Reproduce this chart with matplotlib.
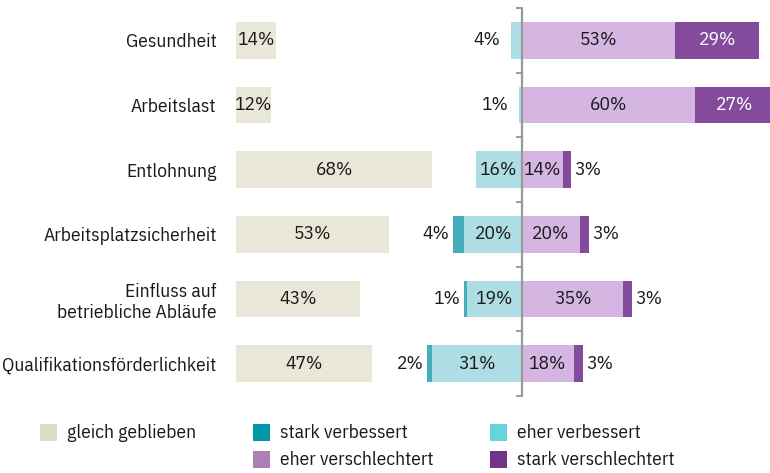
import numpy as np
import matplotlib
matplotlib.use('Agg')
import matplotlib.pyplot as plt
from matplotlib.patches import Rectangle

plt.rcParams['font.family'] = ['IBM Plex Sans Condensed', 'DejaVu Sans']

# data (percent)
categories = ['Gesundheit', 'Arbeitslast', 'Entlohnung', 'Arbeitsplatzsicherheit',
              'Einfluss auf\nbetriebliche Abläufe', 'Qualifikationsförderlichkeit']
gleich = [14, 12, 68, 53, 43, 47]
stark_verb = [0, 0, 0, 4, 1, 2]
eher_verb = [4, 1, 16, 20, 19, 31]
eher_schl = [53, 60, 14, 20, 35, 18]
stark_schl = [29, 27, 3, 3, 3, 3]

legend_labels = ['gleich geblieben', 'stark verbessert', 'eher verbessert',
                 'eher verschlechtert', 'stark verschlechtert']

# colours
c_gleich = '#e9e7d8'
c_sv = '#45adbb'
c_ev = '#aedde4'
c_es = '#d5b6e2'
c_ss = '#844b9d'
leg_colors = ['#e0dcc6', '#0097a6', '#66d4dd', '#ad7fb6', '#6f3586']
txt = '#1a1a1a'
fs = 14

W, H = 770, 473
fig = plt.figure(figsize=(W / 100, H / 100), dpi=100)

# main axes: x in percent, 0 = centre of diverging part
x_left = -99.0     # where the "gleich geblieben" bars start
x_right = 85.8
ax = fig.add_axes([236 / W, (H - 396) / H, (W - 236) / W, 388 / H])
ax.set_xlim(x_left, x_right)
ax.set_ylim(5.5, -0.5)

y = np.arange(len(categories))
bh = 0.57

ax.barh(y, gleich, left=x_left, height=bh, color=c_gleich)
ev = np.array(eher_verb)
sv = np.array(stark_verb)
es = np.array(eher_schl)
ss = np.array(stark_schl)
ax.barh(y, -ev, left=0, height=bh, color=c_ev)
ax.barh(y, -sv, left=-ev, height=bh, color=c_sv)
ax.barh(y, es, left=0, height=bh, color=c_es)
ax.barh(y, ss, left=es, height=bh, color=c_ss)

for i in range(len(categories)):
    ax.text(x_left + gleich[i] / 2, i, f'{gleich[i]}%', ha='center', va='center',
            fontsize=fs, color=txt)
    # improved side
    if sv[i] > 0:
        ax.text(-(ev[i] + sv[i]) - 1.2, i, f'{sv[i]}%', ha='right', va='center',
                fontsize=fs, color=txt)
    if ev[i] >= 10:
        ax.text(-ev[i] / 2, i, f'{ev[i]}%', ha='center', va='center',
                fontsize=fs, color=txt)
    else:
        ax.text(-(ev[i] + sv[i]) - 3.5, i, f'{ev[i]}%', ha='right', va='center',
                fontsize=fs, color=txt)
    # worsened side
    ax.text(es[i] / 2, i, f'{es[i]}%', ha='center', va='center',
            fontsize=fs, color=txt)
    if ss[i] >= 10:
        ax.text(es[i] + ss[i] / 2, i, f'{ss[i]}%', ha='center', va='center',
                fontsize=fs, color='white')
    else:
        ax.text(es[i] + ss[i] + 1.2, i, f'{ss[i]}%', ha='left', va='center',
                fontsize=fs, color=txt)

# centre line with small ticks between rows
ax.axvline(0, color='#9a9a9a', lw=1.6, zorder=3)
for yt in np.arange(-0.5, len(categories), 1.0):
    ax.plot([-1.8, 0], [yt, yt], color='#9a9a9a', lw=1.4, zorder=3, clip_on=False)

ax.set_yticks(y)
ax.set_yticklabels(categories, fontsize=fs, color=txt)
ax.tick_params(axis='y', length=0, pad=14)
ax.set_xticks([])
for s in ax.spines.values():
    s.set_visible(False)

# legend drawn in pixel coordinates
lg = fig.add_axes([0, 0, 1, 1])
lg.set_xlim(0, W)
lg.set_ylim(H, 0)
lg.axis('off')
lg.patch.set_alpha(0)
leg_pos = [(40, 424), (253, 424), (490, 424), (253, 451), (490, 451)]
for (px, py), lab, col in zip(leg_pos, legend_labels, leg_colors):
    lg.add_patch(Rectangle((px, py), 17, 17, color=col, lw=0))
    lg.text(px + 27, py + 8.5, lab, ha='left', va='center', fontsize=fs, color=txt)

fig.savefig('out.png', dpi=100)
